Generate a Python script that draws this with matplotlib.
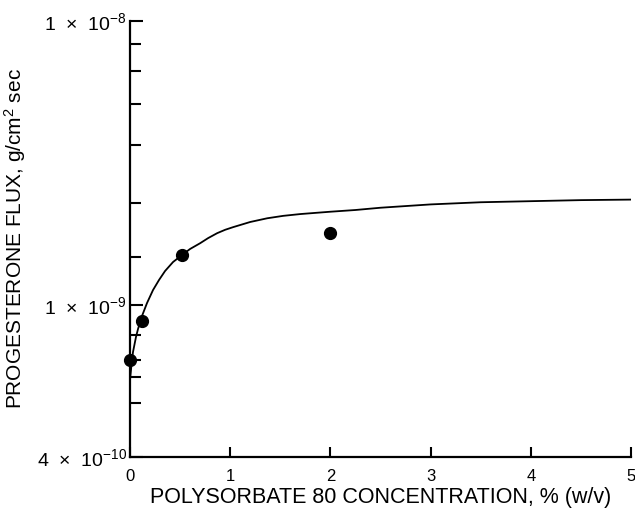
import numpy as np
import matplotlib
matplotlib.use("Agg")
from matplotlib import pyplot as plt
from matplotlib.ticker import FixedLocator, NullFormatter

plt.rcParams['font.family'] = ['Liberation Sans', 'DejaVu Sans']
plt.rcParams['mathtext.fontset'] = 'custom'
plt.rcParams['mathtext.rm'] = 'Liberation Sans'
plt.rcParams['mathtext.it'] = 'Liberation Sans'
plt.rcParams['mathtext.default'] = 'regular'

# measured data points
conc = [0.0, 0.12, 0.52, 2.0]
flux = [7.18e-10, 9.1e-10, 1.50e-9, 1.79e-9]

# fitted curve
curve_x = [0.0, 0.015, 0.03, 0.06, 0.08, 0.12, 0.17, 0.23, 0.29, 0.35,
           0.43, 0.52, 0.60, 0.70, 0.78, 0.87, 0.95, 1.03, 1.20, 1.37,
           1.53, 1.70, 1.85, 2.0, 2.25, 2.5, 3.0, 3.5, 4.0, 4.5, 5.0]
curve_y = [6.36e-10, 6.97e-10, 7.53e-10, 8.25e-10, 8.65e-10, 9.36e-10,
           1.016e-9, 1.129e-9, 1.225e-9, 1.317e-9, 1.417e-9, 1.50e-9,
           1.575e-9, 1.65e-9, 1.72e-9, 1.79e-9, 1.84e-9, 1.88e-9, 1.96e-9,
           2.02e-9, 2.06e-9, 2.09e-9, 2.11e-9, 2.13e-9, 2.16e-9, 2.20e-9,
           2.26e-9, 2.30e-9, 2.32e-9, 2.34e-9, 2.35e-9]

x_ticks = [0, 1, 2, 3, 4, 5]
y_major = [4e-10, 1e-9, 1e-8]
y_labels = [r'4  $\times$  10$^{-10}$', r'1  $\times$  10$^{-9}$', r'1  $\times$  10$^{-8}$']
y_minor = [5.54e-10, 6.48e-10, 7.18e-10, 8.35e-10,
           1.48e-9, 2.29e-9, 3.66e-9, 5.1e-9, 6.67e-9, 8.3e-9]

# the original graph paper has uneven decades: upper one shorter than lower one
UP = 284.0
LO = 382.0


def fwd(v):
    L = np.log10(np.clip(v, 1e-30, None))
    return np.where(L >= -9, L * UP, -9 * UP + (L + 9) * LO)


def inv(t):
    t = np.asarray(t, dtype=float)
    L = np.where(t >= -9 * UP, t / UP, (t + 9 * UP) / LO - 9)
    return 10.0 ** L


fig = plt.figure(figsize=(6.35, 5.08), dpi=100)
ax = fig.add_axes([0.2047, 0.1004, 0.789, 0.8583])

ax.plot(curve_x, curve_y, color='black', lw=1.3)
ax.plot(conc, flux, 'o', color='black', ms=8.5, clip_on=False)

ax.set_yscale('function', functions=(fwd, inv))
ax.set_xlim(0, 5)
ax.set_ylim(4e-10, 1e-8)

ax.yaxis.set_major_locator(FixedLocator(y_major))
ax.set_yticklabels(y_labels)
ax.yaxis.set_minor_locator(FixedLocator(y_minor))
ax.yaxis.set_minor_formatter(NullFormatter())
ax.set_xticks(x_ticks)

for s in ['top', 'right']:
    ax.spines[s].set_visible(False)
for s in ['left', 'bottom']:
    ax.spines[s].set_linewidth(1.6)

ax.tick_params(axis='y', which='major', direction='in', width=1.5,
               length=9, labelsize=14, pad=2)
ax.tick_params(axis='y', which='minor', direction='in', width=1.5, length=8)
ax.tick_params(axis='x', which='major', direction='in', width=1.5,
               length=7, labelsize=12, pad=9)

ax.set_xlabel('POLYSORBATE 80 CONCENTRATION, % (w/v)', fontsize=15.5, labelpad=2)
ax.set_ylabel('PROGESTERONE FLUX, g/cm$^2$ sec', fontsize=15)
ax.yaxis.set_label_coords(-0.203, 0.5)

fig.savefig('out.png', dpi=100)
